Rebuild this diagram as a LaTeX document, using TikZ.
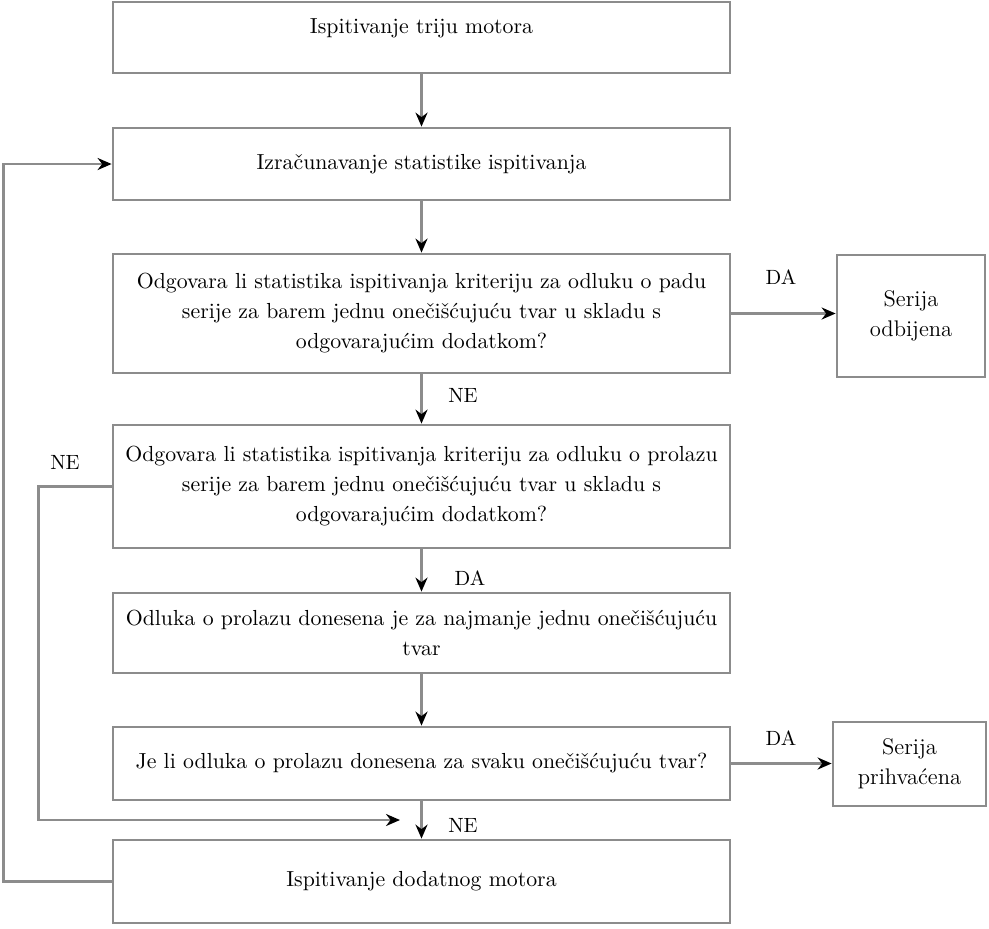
\documentclass[tikz,border=0pt]{standalone}
\usepackage{tikz}
\usetikzlibrary{arrows.meta}

\tikzset{
  okvir/.style={draw=black!45, line width=1.4pt, align=center, inner sep=0pt,
    minimum width=308.5pt, font=\fontsize{10.9}{15}\selectfont},
  ishod/.style={okvir, minimum width=74pt, font=\fontsize{11.3}{15}\selectfont},
  tok/.style={draw=black!45, line width=1.4pt,
    -{Stealth[length=7pt, width=6pt, color=black]}},
  oznaka/.style={font=\fontsize{10.3}{12}\selectfont, inner sep=0pt}
}

\begin{document}
\begin{tikzpicture}[x=0.5pt, y=-0.5pt]

    \useasboundingbox (0,0) rectangle (989,928);

    % Glavni stupac
    \node[okvir, minimum height=35.5pt, text depth=11.5pt] (triju) at (421.5,37.5) {Ispitivanje triju motora};
    \node[okvir, minimum height=36pt] (statistika) at (421.5,164) {Izračunavanje statistike ispitivanja};
    \node[okvir, minimum height=59.5pt] (pad) at (421.5,313.5)
        {Odgovara li statistika ispitivanja kriteriju za odluku o padu\\
         serije za barem jednu onečišćujuću tvar u skladu s\\
         odgovarajućim dodatkom?};
    \node[okvir, minimum height=61.5pt] (prolaz) at (421.5,486.5)
        {Odgovara li statistika ispitivanja kriteriju za odluku o prolazu\\
         serije za barem jednu onečišćujuću tvar u skladu s\\
         odgovarajućim dodatkom?};
    \node[okvir, minimum height=40pt] (najmanje) at (421.5,633)
        {Odluka o prolazu donesena je za najmanje jednu onečišćujuću\\ tvar};
    \node[okvir, minimum height=36.5pt] (svaka) at (421.5,763.5)
        {Je li odluka o prolazu donesena za svaku onečišćujuću tvar?};
    \node[okvir, minimum height=41.5pt] (dodatni) at (421.5,881.5) {Ispitivanje dodatnog motora};

    % Ishodi desno
    \node[ishod, minimum height=61pt] (odbijena) at (911,316) {Serija\\ odbijena};
    \node[ishod, minimum width=76.5pt, minimum height=42pt] (prihvacena) at (909.5,764) {Serija\\ prihvaćena};

    % Strelice prema dolje
    \draw[tok] (triju) -- (statistika);
    \draw[tok] (statistika) -- (pad);
    \draw[tok] (pad) -- (prolaz);
    \draw[tok] (prolaz) -- (najmanje);
    \draw[tok] (najmanje) -- (svaka);
    \draw[tok] (svaka) -- (dodatni);

    % Strelice DA desno
    \draw[tok] (pad.east) -- (pad.east -| odbijena.west);
    \draw[tok] (svaka.east) -- (svaka.east -| prihvacena.west);

    % Petlje lijevo
    \coordinate (spoj) at (400,820);
    \draw[tok] (prolaz.west) -- ++(-73,0) |- (spoj);
    \draw[tok] (dodatni.west) -- ++(-108,0) |- (statistika.west);

    % Oznake grana
    \node[oznaka] (da1) at (781,277) {DA};
    \node[oznaka] (da2) at (781,738) {DA};
    \node[oznaka] (da3) at (470,578) {DA};
    \node[oznaka] (ne1) at (463,395) {NE};
    \node[oznaka] (ne2) at (463,825) {NE};
    \node[oznaka] (ne3) at (65,462) {NE};

\end{tikzpicture}
\end{document}
